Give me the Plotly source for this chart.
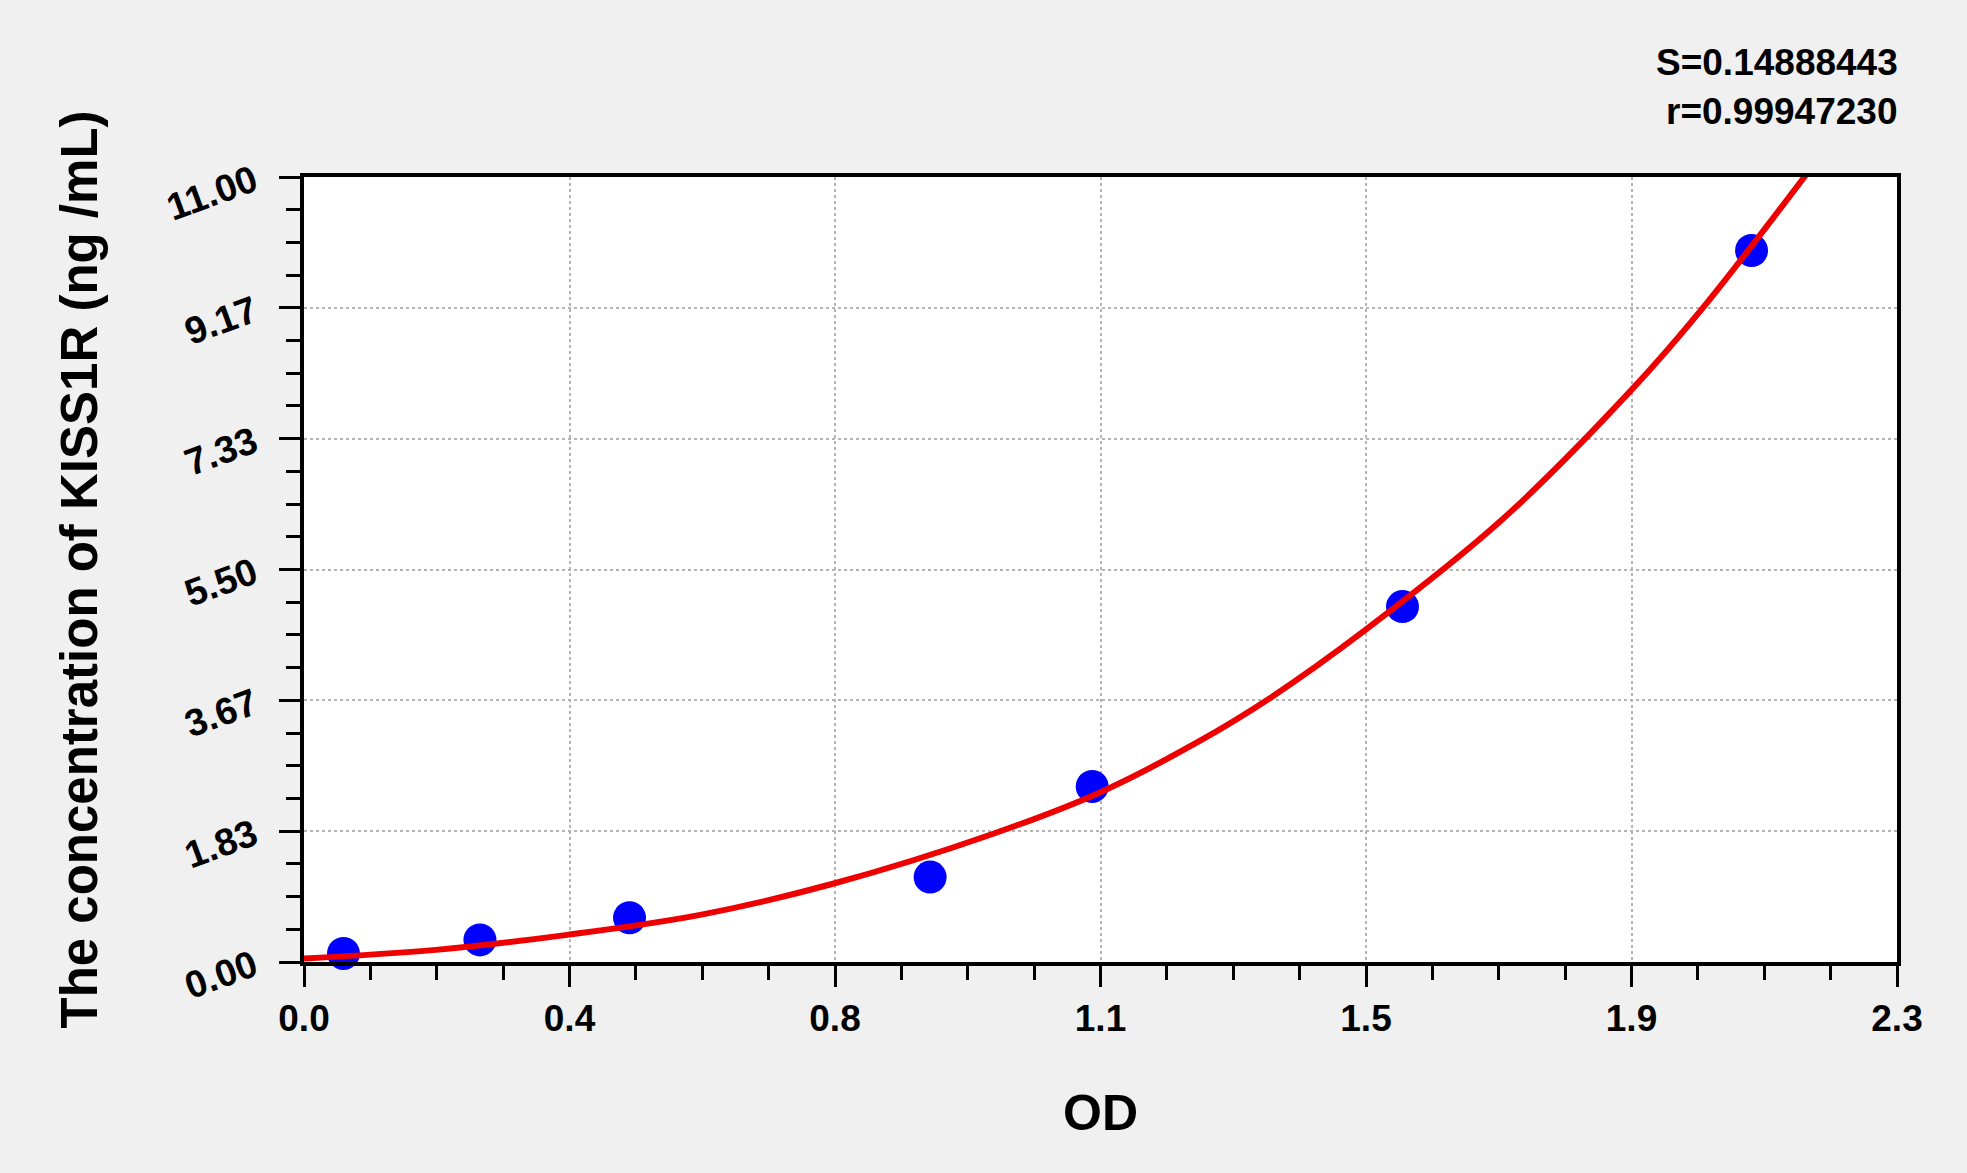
import plotly.graph_objects as go

# standard points
od = [0.057, 0.254, 0.470, 0.904, 1.138, 1.586, 2.090]
conc = [0.12, 0.31, 0.62, 1.19, 2.46, 4.98, 9.97]

# fitted curve
fit_od = [0.0, 0.19, 0.38, 0.572, 0.765, 0.99, 1.15, 1.29, 1.395, 1.532, 1.73, 1.917, 2.02, 2.174]
fit_conc = [0.05, 0.17, 0.38, 0.66, 1.10, 1.78, 2.38, 3.08, 3.70, 4.65, 6.20, 8.02, 9.17, 11.10]

x_ticktext = ['0.0', '0.4', '0.8', '1.1', '1.5', '1.9', '2.3']
y_ticktext = ['0.00', '1.83', '3.67', '5.50', '7.33', '9.17', '11.00']

stats = ['S=0.14888443', 'r=0.99947230']

x_max = 2.3
y_max = 11.0
x_step = x_max / 6
y_step = y_max / 6

FONT = 'Liberation Sans, Arial, sans-serif'

fig = go.Figure()

fig.add_trace(go.Scatter(
    x=od, y=conc, mode='markers',
    marker=dict(color='#0000ff', size=33, line=dict(width=0)),
    cliponaxis=False, showlegend=False))

fig.add_trace(go.Scatter(
    x=fit_od, y=fit_conc, mode='lines',
    line=dict(color='#ee0000', width=6, shape='spline', smoothing=1.0),
    cliponaxis=False, showlegend=False))

fig.update_xaxes(
    range=[0, x_max],
    tickmode='array',
    tickvals=[i * x_step for i in range(len(x_ticktext))],
    ticktext=x_ticktext,
    ticks='outside', ticklen=21, tickwidth=2.5, tickcolor='black',
    minor=dict(tickmode='linear', tick0=0, dtick=x_step / 4, ticks='outside',
               ticklen=14, tickwidth=2.5, tickcolor='black', showgrid=False),
    showline=True, linecolor='black', linewidth=3.5, mirror=True,
    showgrid=True, gridcolor='#b4b4b4', gridwidth=1.5, griddash='dot',
    zeroline=False,
    tickfont=dict(family=FONT, size=37, color='black', weight='bold'),
    title=dict(text='OD', standoff=58,
               font=dict(family=FONT, size=50, color='black', weight='bold')))

fig.update_yaxes(
    range=[0, y_max],
    tickmode='array',
    tickvals=[i * y_step for i in range(len(y_ticktext))],
    ticktext=y_ticktext,
    tickangle=-20,
    ticks='outside', ticklen=21, tickwidth=2.5, tickcolor='black',
    ticklabelstandoff=18,
    minor=dict(tickmode='linear', tick0=0, dtick=y_step / 4, ticks='outside',
               ticklen=14, tickwidth=2.5, tickcolor='black', showgrid=False),
    showline=True, linecolor='black', linewidth=3.5, mirror=True,
    showgrid=True, gridcolor='#b4b4b4', gridwidth=1.5, griddash='dot',
    zeroline=False,
    tickfont=dict(family=FONT, size=38, color='black', weight='bold'),
    title=dict(text='The concentration of KISS1R (ng /mL)', standoff=48,
               font=dict(family=FONT, size=51, color='black', weight='bold')))

fig.add_annotation(x=1.002, y=1.146, xref='paper', yref='paper',
                   xanchor='right', yanchor='middle', showarrow=False,
                   text=stats[0],
                   font=dict(family=FONT, size=37, color='black', weight='bold'))
fig.add_annotation(x=1.002, y=1.0835, xref='paper', yref='paper',
                   xanchor='right', yanchor='middle', showarrow=False,
                   text=stats[1],
                   font=dict(family=FONT, size=37, color='black', weight='bold'))

fig.update_layout(
    width=1967, height=1173,
    margin=dict(l=304, r=70, t=177, b=211),
    paper_bgcolor='#f0f0f0',
    plot_bgcolor='white',
    showlegend=False)

# drop the default page margin so the figure sits at the window corner
fig.write_html("out.html",
               config={'displayModeBar': False},
               post_script="document.body.style.margin='0';document.body.style.overflow='hidden';")
